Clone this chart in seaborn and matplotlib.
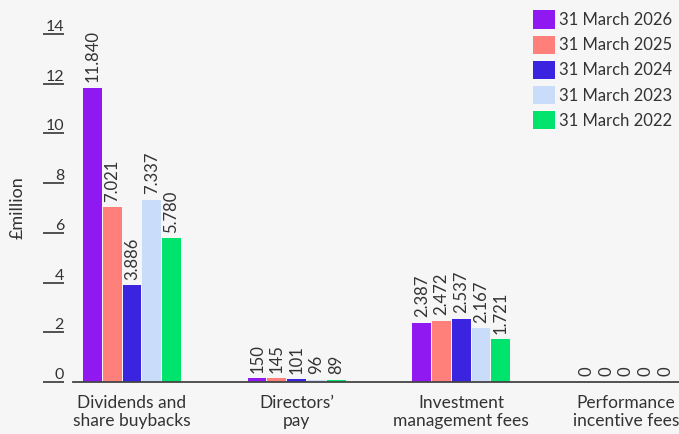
import matplotlib
matplotlib.use('Agg')
import matplotlib.pyplot as plt
import pandas as pd
import seaborn as sns

# chart data
categories = ['Dividends and\nshare buybacks', 'Directors\u2019\npay',
              'Investment\nmanagement fees', 'Performance\nincentive fees']
periods = ['31 March 2026', '31 March 2025', '31 March 2024',
           '31 March 2023', '31 March 2022']
colours = ['#9018F0', '#FF807A', '#3B24E0', '#C9DCFA', '#00E36D']

# £million, one list per period (directors' pay shown in £000 in labels)
values_2026 = [11.840, 0.150, 2.387, 0.0]
values_2025 = [7.021, 0.145, 2.472, 0.0]
values_2024 = [3.886, 0.101, 2.537, 0.0]
values_2023 = [7.337, 0.096, 2.167, 0.0]
values_2022 = [5.780, 0.089, 1.721, 0.0]

labels_2026 = ['11.840', '150', '2.387', '0']
labels_2025 = ['7.021', '145', '2.472', '0']
labels_2024 = ['3.886', '101', '2.537', '0']
labels_2023 = ['7.337', '96', '2.167', '0']
labels_2022 = ['5.780', '89', '1.721', '0']

yticks = [0, 2, 4, 6, 8, 10, 12, 14]

all_values = [values_2026, values_2025, values_2024, values_2023, values_2022]
all_labels = [labels_2026, labels_2025, labels_2024, labels_2023, labels_2022]

rows = []
for period, vals in zip(periods, all_values):
    for cat, v in zip(categories, vals):
        rows.append({'category': cat, 'period': period, 'value': v})
df = pd.DataFrame(rows)

#%% plot
sns.set_style('white')
plt.rcParams['font.family'] = ['Lato', 'DejaVu Sans']
text_col = '#333333'
bg = '#f6f6f6'

fig = plt.figure(figsize=(6.79, 4.34), dpi=100, facecolor=bg)
ax = fig.add_axes([73 / 679, 52 / 434, 606 / 679, 348 / 434])
ax.set_facecolor(bg)

sns.barplot(data=df, x='category', y='value', hue='period', order=categories,
            hue_order=periods, palette=colours, width=0.6, gap=0.05,
            saturation=1, linewidth=0, ax=ax)

for cont, labs in zip(ax.containers, all_labels):
    ax.bar_label(cont, labels=labs, rotation=90, padding=4,
                 fontsize=12, color=text_col)

ax.set_ylim(0, 14)
ax.set_xlim(-0.358, 3.322)

# y ticks: short lines left of the axes with labels sitting above them
ax.set_yticks([])
ytrans = ax.get_yaxis_transform()
for t in yticks:
    ax.plot([-30 / 606, -9 / 606], [t, t], transform=ytrans, color='#444444',
            lw=1.3, clip_on=False, solid_capstyle='butt')
    ax.text(-9 / 606, t, str(t), transform=ytrans, ha='right',
            va='bottom', fontsize=11.5, color=text_col)
ax.text(-55 / 606, 0.5, '\u00a3million', transform=ax.transAxes, rotation=90,
        ha='center', va='center', fontsize=13, color=text_col)

ax.set_xlabel('')
ax.set_ylabel('')
ax.tick_params(axis='x', length=0, pad=9, labelsize=12.5, labelcolor=text_col)

for side in ['top', 'right', 'left']:
    ax.spines[side].set_visible(False)
ax.spines['bottom'].set_color('#444444')
ax.spines['bottom'].set_linewidth(1.3)

leg = ax.legend(loc='upper right', bbox_to_anchor=(1.0, 1.087), frameon=False,
                fontsize=12, handlelength=1.3, handleheight=1.3,
                handletextpad=0.25, labelspacing=0.42, borderaxespad=0)
for txt in leg.get_texts():
    txt.set_color(text_col)

fig.savefig('out.png', dpi=100, facecolor=bg)
